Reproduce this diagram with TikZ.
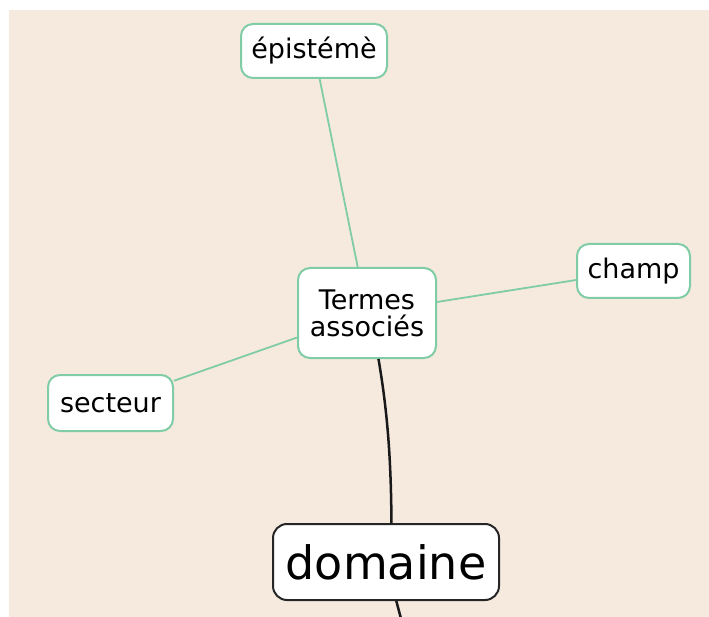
\documentclass[tikz,border=0pt]{standalone}
\usepackage{fontspec}
\setmainfont{DejaVu Sans}
\definecolor{paper}{RGB}{246,234,222}
\definecolor{mint}{RGB}{128,204,166}
\begin{document}
\begin{tikzpicture}[x=1pt,y=-1pt,
  leaf/.style={draw=mint, line width=2pt, fill=white, rounded corners=12pt,
    inner sep=0pt, font=\fontsize{27}{27}\selectfont, align=center},
  hub/.style={draw=black!85, line width=2pt, fill=white, rounded corners=14pt,
    inner sep=0pt, font=\fontsize{46}{48}\selectfont},
  link/.style={draw=mint, line width=1.8pt},
  trunk/.style={draw=black!90, line width=2.5pt}]
  \useasboundingbox (0,0) rectangle (709,617);
  \clip (0,0) rectangle (709,617);
  % page and sheet
  \fill[white] (0,0) rectangle (709,617);
  \fill[paper] (9,10) rectangle (709,617);

  % concepts
  \node[leaf, minimum width=146pt, minimum height=54pt] (ep) at (314,51) {épistémè};
  \node[leaf, minimum width=138pt, minimum height=90pt] (tm) at (367,313) {Termes\\associés};
  \node[leaf, minimum width=113pt, minimum height=54pt] (ch) at (633.5,271) {champ};
  \node[leaf, minimum width=125pt, minimum height=56pt] (se) at (110.5,403) {secteur};
  \node[hub, minimum width=226pt, minimum height=76pt] (dom) at (386,562) {domaine};
  \coordinate (down) at (404,630);

  % links
  \draw[link] (ep) -- (tm);
  \draw[link] (tm) -- (ch);
  \draw[link] (tm) -- (se);
  \draw[trunk] (tm.-76) .. controls (389,420) and (391,470) .. (dom.82);
  \draw[trunk] (dom) -- (down);
\end{tikzpicture}
\end{document}
